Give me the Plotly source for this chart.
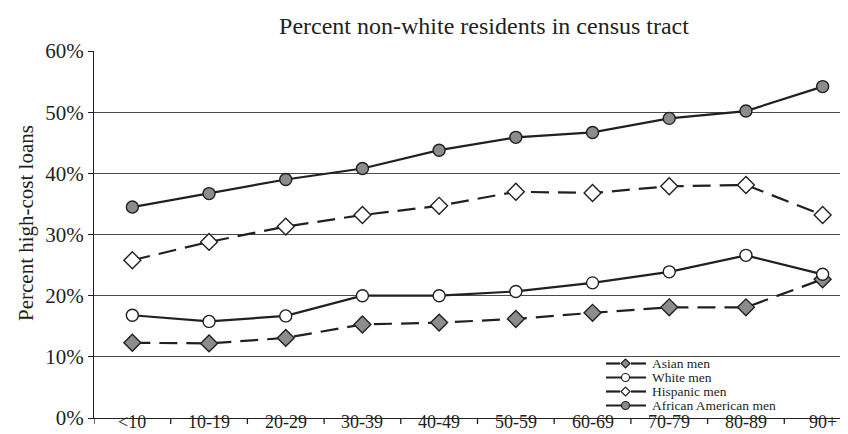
import plotly.graph_objects as go

categories = ["<10", "10-19", "20-29", "30-39", "40-49", "50-59", "60-69", "70-79", "80-89", "90+"]
asian_men = [12.3, 12.2, 13.1, 15.3, 15.6, 16.2, 17.2, 18.1, 18.1, 22.7]
white_men = [16.8, 15.8, 16.7, 20.0, 20.0, 20.7, 22.1, 23.9, 26.6, 23.5]
hispanic_men = [25.8, 28.8, 31.3, 33.2, 34.7, 37.0, 36.8, 37.9, 38.1, 33.2]
african_american_men = [34.5, 36.7, 39.0, 40.8, 43.8, 45.9, 46.7, 49.0, 50.2, 54.2]
y_ticks = [0, 10, 20, 30, 40, 50, 60]
y_tick_labels = ["0%", "10%", "20%", "30%", "40%", "50%", "60%"]

FONT = "Liberation Serif"
INK = "#231f20"
GRAY = "#8c8c8c"

series = [
    ("Asian men", asian_men, "diamond", GRAY, "18px,9px"),
    ("White men", white_men, "circle", "white", "solid"),
    ("Hispanic men", hispanic_men, "diamond", "white", "18px,9px"),
    ("African American men", african_american_men, "circle", GRAY, "solid"),
]

W, H = 848, 434
ML, MR, MT, MB = 86, 0, 43, 24
PW, PH = W - ML - MR, H - MT - MB

fig = go.Figure()
for name, vals, sym, fill, dash in series:
    fig.add_trace(go.Scatter(
        x=categories, y=vals, name=name, mode="lines+markers",
        line=dict(color=INK, width=2.2, dash=dash),
        marker=dict(symbol=sym, size=12 if sym == "circle" else 13, color=fill,
                    line=dict(color=INK, width=1.4)),
        showlegend=False, cliponaxis=False,
    ))

def px_x(p):
    return (p - ML) / PW

def px_y(p):
    return (MT + PH - p) / PH

shapes = []
annotations = []

# category-boundary tick marks and category labels on the x axis
for k in range(len(categories) + 1):
    shapes.append(dict(type="line", xref="x", yref="paper", x0=k - 0.5, x1=k - 0.5,
                       y0=0, y1=-6 / PH, line=dict(color=INK, width=1.3)))
for cat in categories:
    annotations.append(dict(text=cat, xref="x", yref="paper", x=cat, y=px_y(403),
                            xanchor="center", yanchor="top", showarrow=False, borderpad=0,
                            font=dict(family=FONT, size=18, color=INK)))

rows = [355.5, 369.5, 383.5, 397.5]
for (name, vals, sym, fill, dash), ry in zip(series, rows):
    yy = px_y(ry)
    if dash == "solid":
        shapes.append(dict(type="line", xref="paper", yref="paper", x0=px_x(598), x1=px_x(638),
                           y0=yy, y1=yy, line=dict(color=INK, width=2.2)))
    else:
        for a, b in ((598, 612), (623, 638)):
            shapes.append(dict(type="line", xref="paper", yref="paper", x0=px_x(a), x1=px_x(b),
                               y0=yy, y1=yy, line=dict(color=INK, width=2.2)))
    if sym == "circle":
        shapes.append(dict(type="circle", xref="paper", yref="paper", xsizemode="pixel",
                           ysizemode="pixel", xanchor=px_x(617.5), yanchor=yy,
                           x0=-4, x1=4, y0=-4, y1=4, fillcolor=fill,
                           line=dict(color=INK, width=1.2)))
    else:
        shapes.append(dict(type="path", xref="paper", yref="paper", xsizemode="pixel",
                           ysizemode="pixel", xanchor=px_x(617.5), yanchor=yy,
                           path="M -4.5 0 L 0 4.5 L 4.5 0 L 0 -4.5 Z", fillcolor=fill,
                           line=dict(color=INK, width=1.2)))
    annotations.append(dict(text=name, xref="paper", yref="paper", x=px_x(642), y=yy,
                            xanchor="left", yanchor="middle", showarrow=False,
                            font=dict(family=FONT, size=13.5, color=INK)))

annotations.append(dict(text="Percent high-cost loans", xref="paper", yref="paper",
                        x=px_x(18), y=px_y(215), textangle=-90, showarrow=False,
                        xanchor="center", yanchor="middle",
                        font=dict(family=FONT, size=21, color=INK)))

fig.update_layout(
    width=W, height=H,
    margin=dict(l=ML, r=MR, t=MT, b=MB),
    paper_bgcolor="white", plot_bgcolor="white",
    template="none",
    title=dict(text="Percent non-white residents in census tract", x=px_x(476), xref="paper",
               xanchor="center", y=1 - 18 / H, yanchor="middle",
               font=dict(family=FONT, size=24, color=INK)),
    font=dict(family=FONT, color=INK),
    shapes=shapes, annotations=annotations,
    showlegend=False,
)
fig.update_xaxes(
    type="category", range=[-0.5, 9.435], showline=True, linecolor=INK, linewidth=1.3,
    ticks="", showticklabels=False, showgrid=False, zeroline=False, automargin=False,
)
fig.update_yaxes(
    range=[0, 60.02], tickmode="array", tickvals=y_ticks, ticktext=y_tick_labels,
    showline=True, linecolor=INK,
    linewidth=1.3, ticks="outside", ticklen=5, tickcolor=INK, tickwidth=1.3,
    showgrid=True, gridcolor="#4a4a4a", gridwidth=1, zeroline=False,
    tickfont=dict(family=FONT, size=21, color=INK), automargin=False,
)

fig.write_html("out.html")
